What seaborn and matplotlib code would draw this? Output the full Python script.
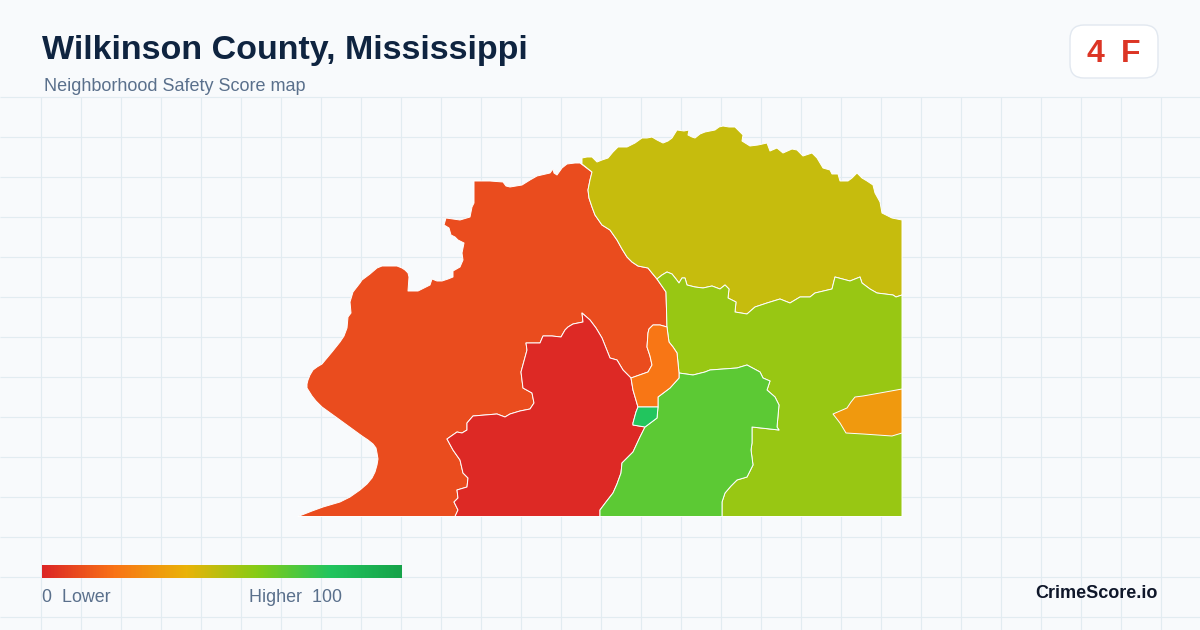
import numpy as np
import pandas as pd
import seaborn as sns
import matplotlib
matplotlib.use("Agg")
import matplotlib.pyplot as plt
from matplotlib.colors import LinearSegmentedColormap
from matplotlib.patches import FancyBboxPatch

# ---- text and values -------------------------------------------------
title_text = "Wilkinson County, Mississippi"
subtitle_text = "Neighborhood Safety Score map"
county_score = "4"
county_grade = "F"
legend_low = "0  Lower"
legend_high = "Higher  100"
brand_text = "CrimeScore.io"

region_names = ["west", "north", "east", "south_central", "central", "creek", "spot", "pocket"]
region_scores = [10, 47, 56, 1, 68, 21, 80, 32]

scale_stops = [0.0, 0.2, 0.4, 0.6, 0.8, 1.0]
scale_colors = ["#dc2626", "#f97316", "#eab308", "#84cc16", "#22c55e", "#16a34a"]

# ---- map outlines (shared borders) ------------------------------------
west_outer = [(298,516.5),(312,511),(323,507),(340,502),(350,497),(360,490),(367,484),(372,478),(375,472),
    (377,465),(378,459),(377,453),(376,448),(373,444),(368,440),(362,436),(340,420),(322,407),(316,401),
    (312,396),(307,388),(307,384),(308,380),(310,375),(313,370),(317,367),(322,364),(332,352),
    (340,342),(344,336),(347,328),(348,317),(351,313),(350,302),(353,292),(360,283),(362,280),(370,274),
    (377,268),(382,266),(387,266),(397,266),(402,268),(405,270),(408,273),(409,277),(408,291),(413,291),(418,291),(424,288),(430,285),(432,279),
    (437,281),(442,281),(448,279),(453,277),(453,271),(460,267),(463,260),(462,253),(464,243),(458,240),(455,237),(451,235),
    (449,228),(444,225),(446,218),(453,219),(460,220),(470,217),(472,207),(474,203),(474,181),(490,181),(503,182),
    (506,186),(510,187),(522,185),(530,180),(537,176),(550,173),(553,169),(554,173),(557,175),(562,168),(567,164),(575,163),(580,163),(592,172)]
west_north = [(592,172),(590,180),(588,190),(589,198),(592,207),(595,215),(602,225),(610,230),(617,240),(622,249),(627,257),
    (632,262),(638,266),(648,268),(652,273),(657,279)]
west_east = [(657,279),(666,292),(667,327)]
west_creek = [(667,327),(660,325),(653,325),(649,329),(648,333),(647,347),(650,356),(652,365),(648,372),(631,378)]
west_south = [(631,378),(623,370),(617,360),(610,358),(606,348),(602,338),(596,328),(590,320),(582,313),(583,322),
    (573,324),(568,327),(565,330),(561,337),(552,336),(543,336),(540,343),(526,343),(527,350),(521,372),(523,388),
    (532,393),(534,403),(530,409),(520,411),(510,414),(505,417),(497,414),(485,415),(473,416),(467,423),(467,430),
    (462,433),(457,432),(447,439),(453,450),(460,460),(463,473),(468,478),(467,487),(457,490),
    (458,498),(454,502),(458,510),(455,516.5)]
north_outer = [(582,164),(582,158),(587,157),(592,157),(597,162),(602,160),(608,158),(613,152),(618,147),(627,147),(635,143),
    (642,138),(647,138),(652,137),(657,140),(663,143),(668,141),(672,138),(677,130),(684,131),(689,130),(688,135),(692,137),(695,138),(700,134),(705,132),
    (715,130),(719,127),(723,126),(729,127),(735,127),(739,131),(743,135),(742,141),(750,146),(758,145),(767,143),(770,151),(777,148),
    (783,153),(792,149),(797,150),(803,156),(812,153),(817,158),(820,163),(823,168),(830,170),(832,174),
    (838,174),(840,181),(848,181),(852,178),(857,173),(862,178),(867,181),(873,185),(875,193),(880,202),(882,213),
    (892,218),(902,220),(902,295)]
north_east = [(657,279),(662,275),(667,272),(672,274),(676,279),(679,283),(682,278),(685,278),(687,285),(695,287),(703,288),
    (712,286),(720,289),(725,285),(729,289),(728,298),(736,302),(735,312),(747,314),(755,307),(767,303),
    (780,299),(790,303),(795,300),(800,297),(810,297),(815,293),(832,289),(835,277),(850,281),(860,277),
    (862,283),(870,289),(877,293),(893,295),(896,297),(902,295)]
creek_east = [(667,327),(668,335),(669,342),(673,347),(677,353),(678,363),(679,373)]
creek_central = [(679,373),(679,378),(670,388),(658,397),(658,407)]
creek_south = [(631,378),(633,390),(638,407)]
creek_spot = [(638,407),(658,407)]
spot_south = [(638,407),(636,412),(633,423),(633,425),(645,427)]
spot_central = [(645,427),(657,418),(658,407)]
south_central = [(645,427),(640,437),(633,452),(622,463),(621,473),(617,484),(613,493),(606,502),(600,510),(600,516.5)]
central_east = [(679,373),(693,375),(705,372),(710,370),(737,368),(747,365),(760,372),(763,378),
    (770,381),(767,390),(775,397),(779,405),(777,427),(779,430),(752,427),(752,443),(751,450),
    (753,465),(747,477),(737,480),(731,486),(725,493),(722,502),(722,516.5)]
east_corner = [(902,295),(902,516.5),(722,516.5)]
pocket_outline = [(833,414),(847,408),(851,402),(855,397),(863,396),(880,393),(902,389),(902,433),(892,436),
    (863,434),(846,433),(843,428),(840,423)]

def chain(*parts):
    pts = []
    for p in parts:
        pts.extend(p)
    return pts

rev = lambda p: p[::-1]
region_outlines = {
    "west": chain(west_outer, west_north, west_east, west_creek, west_south),
    "north": chain(north_outer, rev(north_east), rev(west_north)),
    "east": chain(north_east, east_corner, rev(central_east), rev(creek_east), rev(west_east)),
    "south_central": chain(rev(west_south), creek_south, spot_south, south_central),
    "central": chain(rev(south_central), spot_central, rev(creek_central), central_east),
    "creek": chain(rev(west_creek), creek_east, creek_central, rev(creek_spot), rev(creek_south)),
    "spot": chain(creek_spot, rev(spot_central), rev(spot_south)),
    "pocket": pocket_outline,
}

# ---- drawing ----------------------------------------------------------
sns.set_theme(style="white")
plt.rcParams["font.family"] = ["Liberation Sans", "DejaVu Sans"]

BG = "#f8fafc"
GRID = "#e2ecf1"
fig = plt.figure(figsize=(12, 6.3), dpi=100, facecolor=BG)
ax = fig.add_axes([0, 0, 1, 1], facecolor=BG)
ax.set_xlim(0, 1200)
ax.set_ylim(630, 0)
ax.axis("off")

ax.vlines(np.arange(40, 1200, 40) + 0.5, 97, 630, color=GRID, lw=0.85, zorder=1)
ax.hlines(np.arange(97, 630, 40) - 0.5, 0, 1200, color=GRID, lw=0.85, zorder=1)

scale = LinearSegmentedColormap.from_list("safety", list(zip(scale_stops, scale_colors)))
regions = pd.DataFrame({"name": region_names, "score": region_scores})
for row in regions.itertuples():
    xy = np.array(region_outlines[row.name], dtype=float)
    ax.fill(xy[:, 0], xy[:, 1], facecolor=scale(row.score / 100), edgecolor="white",
            lw=0.7, joinstyle="round", zorder=3)

# colour scale
ax.imshow(np.linspace(0, 1, 360)[None, :], cmap=scale, extent=(42, 402, 578, 565),
          aspect="auto", zorder=4)
ax.set_xlim(0, 1200)
ax.set_ylim(630, 0)

# header
ax.text(42, 50, title_text, fontsize=24.5, fontweight="bold", color="#0f2440", va="center", ha="left")
ax.text(44, 86.5, subtitle_text, fontsize=12.95, color="#5a708c", va="center", ha="left")

# badge
ax.add_patch(FancyBboxPatch((1070, 25), 88, 53, boxstyle="round,pad=0,rounding_size=14",
                            facecolor="#ffffff", edgecolor="#e2e8f0", lw=1, zorder=4))
ax.text(1095, 53.5, county_score, fontsize=23, fontweight="bold", color="#dc3525",
        va="center", ha="center", zorder=5)
ax.text(1131, 53.5, county_grade, fontsize=23, fontweight="bold", color="#dc3525",
        va="center", ha="center", zorder=5)

# legend text and brand
ax.text(42, 598, legend_low, fontsize=12.85, color="#5a708c", va="center", ha="left")
ax.text(249, 598, legend_high, fontsize=12.85, color="#5a708c", va="center", ha="left")
ax.text(1158, 594, brand_text, fontsize=13, fontweight="bold", color="#0f172a", va="center", ha="right")

fig.savefig("out.png", dpi=100, facecolor=BG)
